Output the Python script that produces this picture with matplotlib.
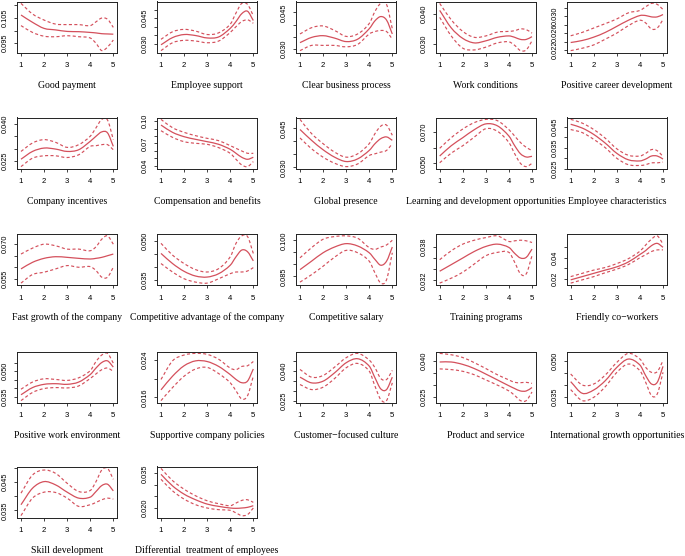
import numpy as np
import matplotlib
matplotlib.use("Agg")
import matplotlib.pyplot as plt
from matplotlib.path import Path
from matplotlib.patches import PathPatch

# ---------------- data ----------------
x_grid = [1, 1.5, 2, 2.5, 3, 3.5, 4, 4.25, 4.5, 4.75, 5]

titles = ["Good payment", "Employee support", "Clear business process", "Work conditions",
          "Positive career development", "Company incentives", "Compensation and benefits",
          "Global presence", "Learning and development opportunities", "Employee characteristics",
          "Fast growth of the company", "Competitive advantage of the company", "Competitive salary",
          "Training programs", "Friendly co\u2212workers", "Positive work environment",
          "Supportive company policies", "Customer\u2212focused culture", "Product and service",
          "International growth opportunities", "Skill development",
          "Differential  treatment of employees"]

fit = [
    [0.1062, 0.1033, 0.1009, 0.1003, 0.0997, 0.0996, 0.0993, 0.0991, 0.0988, 0.0987, 0.0986],
    [0.0294, 0.0336, 0.0354, 0.0348, 0.0334, 0.0340, 0.0390, 0.0430, 0.0476, 0.0490, 0.0436],
    [0.03257, 0.03471, 0.03543, 0.03443, 0.03300, 0.03400, 0.03829, 0.04157, 0.04329, 0.04186, 0.03614],
    [0.04118, 0.03529, 0.03176, 0.03024, 0.03094, 0.03212, 0.03259, 0.03212, 0.03141, 0.03141, 0.03235],
    [0.02376, 0.02424, 0.02504, 0.02616, 0.02760, 0.02904, 0.03016, 0.03016, 0.02984, 0.02984, 0.03040],
    [0.02568, 0.02882, 0.03018, 0.02977, 0.02882, 0.02950, 0.03291, 0.03496, 0.03673, 0.03632, 0.03087],
    [0.09467, 0.08489, 0.07911, 0.07556, 0.07244, 0.06889, 0.06222, 0.05689, 0.05156, 0.04889, 0.05156],
    [0.04461, 0.04043, 0.03678, 0.03391, 0.03222, 0.03326, 0.03652, 0.03913, 0.04108, 0.04174, 0.04043],
    [0.05474, 0.06133, 0.06648, 0.07163, 0.07534, 0.07410, 0.06751, 0.06133, 0.05618, 0.05410, 0.05453],
    [0.04629, 0.04447, 0.04138, 0.03719, 0.03228, 0.02919, 0.02864, 0.02955, 0.03101, 0.03101, 0.02955],
    [0.05929, 0.06214, 0.06386, 0.06457, 0.06429, 0.06386, 0.06357, 0.06386, 0.06429, 0.06500, 0.06572],
    [0.04509, 0.04121, 0.03823, 0.03642, 0.03603, 0.03733, 0.04056, 0.04379, 0.04638, 0.04573, 0.04224],
    [0.08780, 0.09131, 0.09481, 0.09720, 0.09860, 0.09762, 0.09481, 0.09201, 0.08963, 0.09131, 0.09720],
    [0.03365, 0.03482, 0.03600, 0.03717, 0.03806, 0.03847, 0.03788, 0.03682, 0.03600, 0.03612, 0.03759],
    [0.01908, 0.02216, 0.02524, 0.02832, 0.03140, 0.03602, 0.04310, 0.04680, 0.05142, 0.05357, 0.04988],
    [0.03615, 0.04038, 0.04230, 0.04268, 0.04230, 0.04364, 0.04806, 0.05190, 0.05516, 0.05612, 0.05247],
    [0.01760, 0.02052, 0.02275, 0.02380, 0.02366, 0.02261, 0.02087, 0.01983, 0.01913, 0.01948, 0.02206],
    [0.03700, 0.03417, 0.03500, 0.03917, 0.04417, 0.04617, 0.04250, 0.03667, 0.03117, 0.03083, 0.03700],
    [0.03958, 0.03958, 0.03858, 0.03686, 0.03457, 0.03215, 0.02972, 0.02857, 0.02757, 0.02757, 0.02900],
    [0.04125, 0.03639, 0.03778, 0.04167, 0.04722, 0.05070, 0.04820, 0.04375, 0.04028, 0.04097, 0.04764],
    [0.03700, 0.04288, 0.04523, 0.04406, 0.04147, 0.03935, 0.03970, 0.04170, 0.04382, 0.04429, 0.04194],
    [0.03458, 0.02957, 0.02600, 0.02357, 0.02171, 0.02071, 0.02000, 0.01986, 0.02000, 0.02029, 0.02100],
]

upper = [
    [0.1108, 0.1066, 0.1042, 0.1026, 0.1024, 0.1024, 0.1020, 0.1035, 0.1050, 0.1045, 0.1013],
    [0.0326, 0.0370, 0.0384, 0.0374, 0.0354, 0.0364, 0.0414, 0.0480, 0.0536, 0.0530, 0.0464],
    [0.03614, 0.03871, 0.03943, 0.03757, 0.03514, 0.03614, 0.04043, 0.04543, 0.04871, 0.04829, 0.03829],
    [0.04353, 0.03800, 0.03412, 0.03212, 0.03259, 0.03388, 0.03412, 0.03435, 0.03494, 0.03471, 0.03353],
    [0.02536, 0.02616, 0.02720, 0.02824, 0.02936, 0.03080, 0.03136, 0.03224, 0.03304, 0.03280, 0.03160],
    [0.02882, 0.03223, 0.03359, 0.03250, 0.03046, 0.03155, 0.03496, 0.03837, 0.04178, 0.04150, 0.03359],
    [0.10222, 0.09111, 0.08489, 0.08044, 0.07689, 0.07378, 0.06711, 0.06356, 0.06000, 0.05689, 0.05689],
    [0.04852, 0.04304, 0.03913, 0.03587, 0.03391, 0.03522, 0.03913, 0.04304, 0.04591, 0.04630, 0.04239],
    [0.05968, 0.06648, 0.07204, 0.07616, 0.07822, 0.07740, 0.07163, 0.06751, 0.06339, 0.06030, 0.05824],
    [0.04866, 0.04684, 0.04375, 0.03956, 0.03446, 0.03137, 0.03101, 0.03228, 0.03410, 0.03355, 0.03082],
    [0.06572, 0.06829, 0.07000, 0.06929, 0.06786, 0.06786, 0.06715, 0.06886, 0.07215, 0.07358, 0.07000],
    [0.04896, 0.04444, 0.04121, 0.03888, 0.03797, 0.03927, 0.04379, 0.04896, 0.05181, 0.05155, 0.04509],
    [0.09271, 0.09692, 0.10042, 0.10154, 0.10182, 0.10084, 0.09692, 0.09622, 0.09720, 0.09804, 0.10000],
    [0.03570, 0.03729, 0.03847, 0.03917, 0.03964, 0.03994, 0.03894, 0.03906, 0.03917, 0.03906, 0.03876],
    [0.02216, 0.02524, 0.02832, 0.03078, 0.03448, 0.03910, 0.04618, 0.05203, 0.05758, 0.06066, 0.05296],
    [0.03942, 0.04364, 0.04556, 0.04518, 0.04460, 0.04614, 0.05036, 0.05574, 0.05958, 0.06054, 0.05478],
    [0.01983, 0.02380, 0.02505, 0.02540, 0.02519, 0.02414, 0.02226, 0.02192, 0.02261, 0.02275, 0.02366],
    [0.04083, 0.03700, 0.03783, 0.04200, 0.04667, 0.04883, 0.04550, 0.04167, 0.03633, 0.03583, 0.04033],
    [0.04315, 0.04258, 0.04143, 0.03929, 0.03686, 0.03429, 0.03215, 0.03114, 0.03100, 0.03114, 0.03072],
    [0.04445, 0.03986, 0.04028, 0.04403, 0.04931, 0.05306, 0.05070, 0.04722, 0.04514, 0.04542, 0.05000],
    [0.04112, 0.04758, 0.04935, 0.04817, 0.04464, 0.04170, 0.04206, 0.04523, 0.04935, 0.04994, 0.04605],
    [0.03715, 0.03186, 0.02815, 0.02529, 0.02314, 0.02186, 0.02100, 0.02214, 0.02329, 0.02357, 0.02243],
]

lower = [
    [0.1020, 0.0993, 0.0978, 0.0976, 0.0980, 0.0976, 0.0971, 0.0950, 0.0921, 0.0935, 0.0963],
    [0.0260, 0.0306, 0.0320, 0.0316, 0.0306, 0.0316, 0.0366, 0.0400, 0.0430, 0.0440, 0.0420],
    [0.02929, 0.03143, 0.03143, 0.03143, 0.03086, 0.03186, 0.03614, 0.03714, 0.03757, 0.03714, 0.03400],
    [0.03882, 0.03259, 0.02847, 0.02788, 0.02882, 0.03024, 0.03059, 0.02941, 0.02765, 0.02788, 0.03094],
    [0.02184, 0.02240, 0.02320, 0.02456, 0.02600, 0.02776, 0.02904, 0.02840, 0.02696, 0.02720, 0.02920],
    [0.02268, 0.02609, 0.02705, 0.02705, 0.02636, 0.02746, 0.03087, 0.03114, 0.03155, 0.03155, 0.02950],
    [0.08711, 0.07822, 0.07244, 0.07022, 0.06889, 0.06444, 0.05689, 0.04889, 0.04133, 0.03911, 0.04578],
    [0.04134, 0.03717, 0.03391, 0.03157, 0.03026, 0.03130, 0.03456, 0.03522, 0.03587, 0.03652, 0.03913],
    [0.05041, 0.05659, 0.06133, 0.06689, 0.07225, 0.07060, 0.06339, 0.05618, 0.05000, 0.04794, 0.05000],
    [0.04375, 0.04229, 0.03901, 0.03501, 0.02991, 0.02682, 0.02646, 0.02682, 0.02773, 0.02773, 0.02809],
    [0.05314, 0.05686, 0.05786, 0.05929, 0.06072, 0.06000, 0.06029, 0.05857, 0.05571, 0.05571, 0.06000],
    [0.04121, 0.03797, 0.03539, 0.03409, 0.03371, 0.03539, 0.03733, 0.03797, 0.03797, 0.03836, 0.03965],
    [0.08262, 0.08570, 0.08921, 0.09299, 0.09580, 0.09481, 0.09131, 0.08640, 0.08220, 0.08360, 0.09481],
    [0.03153, 0.03241, 0.03347, 0.03494, 0.03641, 0.03700, 0.03700, 0.03523, 0.03318, 0.03318, 0.03641],
    [0.01600, 0.01908, 0.02216, 0.02585, 0.02924, 0.03355, 0.04002, 0.04279, 0.04587, 0.04741, 0.04741],
    [0.03270, 0.03750, 0.03980, 0.04038, 0.04018, 0.04134, 0.04575, 0.04844, 0.05094, 0.05190, 0.04998],
    [0.01530, 0.01809, 0.02052, 0.02206, 0.02240, 0.02108, 0.01913, 0.01739, 0.01565, 0.01635, 0.02052],
    [0.03333, 0.03083, 0.03200, 0.03633, 0.04167, 0.04383, 0.04000, 0.03250, 0.02583, 0.02533, 0.03417],
    [0.03672, 0.03643, 0.03572, 0.03429, 0.03215, 0.03000, 0.02757, 0.02571, 0.02357, 0.02357, 0.02714],
    [0.03792, 0.03333, 0.03472, 0.03917, 0.04514, 0.04861, 0.04583, 0.04097, 0.03542, 0.03611, 0.04514],
    [0.03312, 0.03935, 0.04147, 0.04135, 0.03935, 0.03641, 0.03700, 0.03782, 0.03876, 0.03935, 0.03900],
    [0.03243, 0.02743, 0.02386, 0.02143, 0.02000, 0.01929, 0.01900, 0.01786, 0.01671, 0.01714, 0.02000],
]

y_ticks = [
    [0.095, 0.100, 0.105, 0.110],
    [0.030, 0.035, 0.040, 0.045, 0.050],
    [0.030, 0.035, 0.040, 0.045],
    [0.030, 0.035, 0.040],
    [0.022, 0.024, 0.026, 0.028, 0.030, 0.032],
    [0.025, 0.030, 0.035, 0.040],
    [0.04, 0.05, 0.06, 0.07, 0.08, 0.09, 0.10],
    [0.030, 0.035, 0.040, 0.045],
    [0.050, 0.060, 0.070],
    [0.025, 0.030, 0.035, 0.040, 0.045],
    [0.055, 0.060, 0.065, 0.070],
    [0.035, 0.040, 0.045, 0.050],
    [0.085, 0.090, 0.095, 0.100],
    [0.032, 0.034, 0.036, 0.038],
    [0.02, 0.03, 0.04, 0.05],
    [0.035, 0.040, 0.045, 0.050, 0.055],
    [0.016, 0.020, 0.024],
    [0.025, 0.030, 0.035, 0.040, 0.045],
    [0.025, 0.030, 0.035, 0.040],
    [0.035, 0.040, 0.045, 0.050],
    [0.035, 0.040, 0.045, 0.050],
    [0.020, 0.025, 0.030, 0.035],
]

y_labels = [
    ["0.095", "", "0.105", ""],
    ["0.030", "", "", "0.045", ""],
    ["0.030", "", "", "0.045"],
    ["0.030", "", "0.040"],
    ["0.022", "", "0.026", "", "0.030", ""],
    ["0.025", "", "", "0.040"],
    ["0.04", "", "", "0.07", "", "", "0.10"],
    ["0.030", "", "", "0.045"],
    ["0.050", "", "0.070"],
    ["0.025", "", "0.035", "", "0.045"],
    ["0.055", "", "", "0.070"],
    ["0.035", "", "", "0.050"],
    ["0.085", "", "", "0.100"],
    ["0.032", "", "", "0.038"],
    ["0.02", "", "0.04", ""],
    ["0.035", "", "", "0.050", ""],
    ["0.016", "", "0.024"],
    ["0.025", "", "", "0.040", ""],
    ["0.025", "", "", "0.040"],
    ["0.035", "", "", "0.050"],
    ["0.035", "", "0.045", ""],
    ["0.020", "", "", "0.035"],
]

x_ticks = [1, 2, 3, 4, 5]
x_labels = ["1", "2", "3", "4", "5"]

# ---------------- style / layout ----------------
W, H = 685, 556
col_left = [17.3, 157.3, 296.3, 436.0, 567.0]
row_top = [1.5, 117.5, 234.0, 351.5, 466.5]
ax_w, ax_h = 99.7, 51.0
red = "#d4505c"
serif = ["Liberation Serif", "DejaVu Serif"]
sans = ["Liberation Sans", "DejaVu Sans"]


def smooth_path(xs, ys):
    xs = np.asarray(xs, float)
    ys = np.asarray(ys, float)
    n = len(xs)
    m = np.empty(n)
    m[0] = (ys[1] - ys[0]) / (xs[1] - xs[0])
    m[-1] = (ys[-1] - ys[-2]) / (xs[-1] - xs[-2])
    for i in range(1, n - 1):
        m[i] = (ys[i + 1] - ys[i - 1]) / (xs[i + 1] - xs[i - 1])
    verts = [(xs[0], ys[0])]
    codes = [Path.MOVETO]
    for i in range(n - 1):
        h = xs[i + 1] - xs[i]
        verts += [(xs[i] + h / 3, ys[i] + m[i] * h / 3),
                  (xs[i + 1] - h / 3, ys[i + 1] - m[i + 1] * h / 3),
                  (xs[i + 1], ys[i + 1])]
        codes += [Path.CURVE4] * 3
    return Path(verts, codes)


fig = plt.figure(figsize=(W / 100, H / 100), dpi=100)

for k, title in enumerate(titles):
    r, c = divmod(k, 5)
    left = col_left[c]
    top = row_top[r]
    ax = fig.add_axes([left / W, 1 - (top + ax_h) / H, ax_w / W, ax_h / H])
    for series, ls in ((upper[k], (0, (2.6, 2.0))), (lower[k], (0, (2.6, 2.0))), (fit[k], "-")):
        p = PathPatch(smooth_path(x_grid, series), facecolor="none", edgecolor=red,
                      lw=0.9 if ls == "-" else 0.85, linestyle=ls, capstyle="butt")
        ax.add_patch(p)
    allv = np.concatenate([fit[k], upper[k], lower[k]])
    lo, hi = allv.min(), allv.max()
    pad = 0.04 * (hi - lo)
    ax.set_ylim(lo - pad, hi + pad)
    ax.set_xlim(0.84, 5.16)
    ax.set_xticks(x_ticks)
    ax.set_xticklabels(x_labels, fontsize=5.6, family=sans)
    ax.set_yticks(y_ticks[k])
    ax.set_yticklabels(y_labels[k], fontsize=5.3, family=sans, rotation=90, va="center")
    ax.tick_params(axis="x", direction="out", length=2.5, width=0.6, pad=4.5, color="#222222")
    ax.tick_params(axis="y", direction="out", length=2.5, width=0.6, pad=3.5, color="#222222")
    for s in ax.spines.values():
        s.set_linewidth(0.7)
        s.set_color("#222222")
    ax.annotate(title, xy=(0.5, 0), xycoords="axes fraction", xytext=(0, -23.5),
                textcoords="offset points", ha="center", va="center",
                fontsize=7.0, family=serif)

fig.savefig("out.png", dpi=100)
